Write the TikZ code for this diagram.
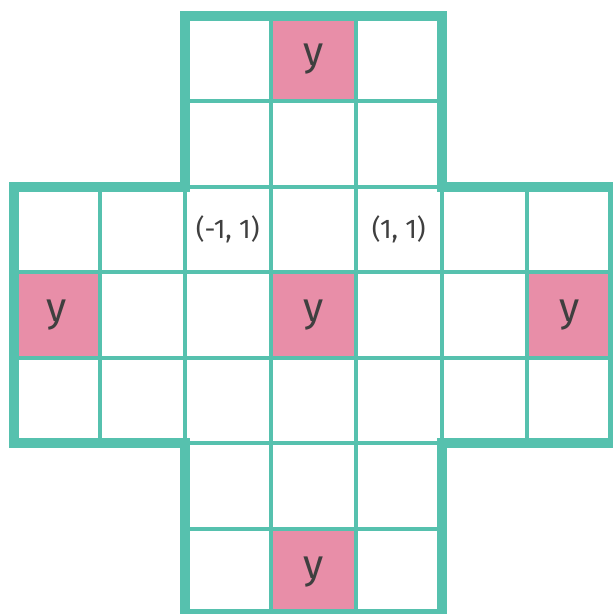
\documentclass[tikz,border=0pt]{standalone}
\usepackage{fontspec}
\setmainfont{Fira Sans}
\definecolor{tealc}{HTML}{56C1AE}
\definecolor{pinkc}{HTML}{E88EA8}
\definecolor{txt}{HTML}{3F3F3F}
\begin{document}
\begin{tikzpicture}[
  cell/.style={draw=tealc, line width=4pt, minimum size=85.5pt, inner sep=0pt, fill=white, text=txt},
  pinkcell/.style={cell, fill=pinkc, font=\fontsize{41}{41}\selectfont},
  lbl/.style={cell, font=\fontsize{27}{27}\selectfont},
  border/.style={draw=tealc, line width=10pt, line join=miter}
]
\useasboundingbox (0pt,0pt) rectangle (613pt,614pt);
\begin{scope}[shift={(14pt,598pt)}, x=85.5pt, y=-85.5pt]
  \foreach \c in {2,3,4}{
    \foreach \r in {0,1,5,6}{
      \node[cell] (c\c r\r) at (\c+0.5,\r+0.5) {};
    }
  }
  \foreach \c in {0,...,6}{
    \foreach \r in {2,3,4}{
      \node[cell] (c\c r\r) at (\c+0.5,\r+0.5) {};
    }
  }
  \node[pinkcell] (p1) at (3.5,0.5) {y};
  \node[pinkcell] (p2) at (0.5,3.5) {y};
  \node[pinkcell] (p3) at (3.5,3.5) {y};
  \node[pinkcell] (p4) at (6.5,3.5) {y};
  \node[pinkcell] (p5) at (3.5,6.5) {y};
  \node[lbl] (l1) at (2.5,2.5) {(-1, 1)};
  \node[lbl] (l2) at (4.5,2.5) {(1, 1)};
  \draw[border] (2,0) -- (5,0) -- (5,2) -- (7,2) -- (7,5) -- (5,5) -- (5,7) -- (2,7) -- (2,5) -- (0,5) -- (0,2) -- (2,2) -- cycle;
\end{scope}
\end{tikzpicture}
\end{document}
